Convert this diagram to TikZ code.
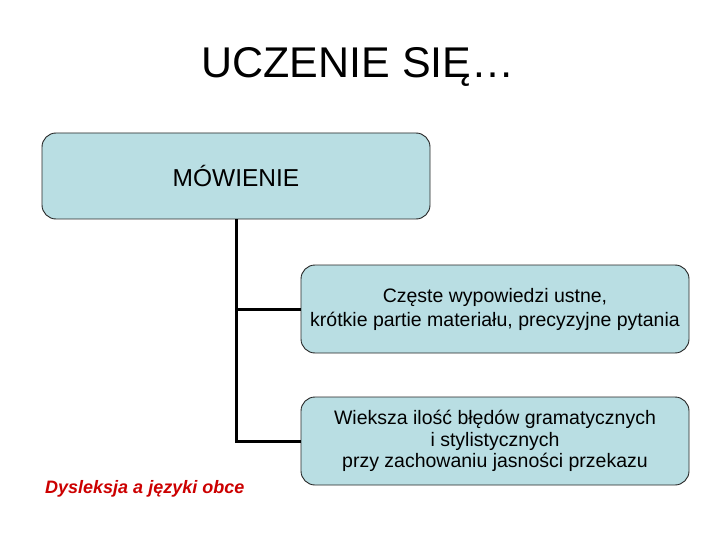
\documentclass[tikz,border=0pt]{standalone}
\usepackage{fontspec}
\setmainfont{Liberation Sans}
\definecolor{boxfill}{HTML}{B9DEE3}
\definecolor{footred}{HTML}{CC0000}
\begin{document}
\begin{tikzpicture}[x=1pt,y=-1pt,
  box/.style={draw=black!85,line width=0.9pt,fill=boxfill,rounded corners=14pt,
    minimum width=388pt,inner sep=0pt,align=center,text=black},
  conn/.style={line width=3pt}]
\useasboundingbox[fill=white] (0,0) rectangle (720,540);
\node[anchor=base,font=\fontsize{43}{50}\selectfont] (title) at (358,78) {UCZENIE SIĘ…};
\node[box,minimum height=86pt,font=\fontsize{24.5}{28}\selectfont] (b1) at (236,176) {MÓWIENIE};
\node[box,minimum height=88pt,font=\fontsize{19.5}{24}\selectfont] (b2) at (495,309) {Częste wypowiedzi ustne,\\ krótkie partie materiału, precyzyjne pytania};
\node[box,minimum height=88pt,font=\fontsize{19.5}{21.5}\selectfont] (b3) at (495,441) {Wieksza ilość błędów gramatycznych\\ i stylistycznych\\ przy zachowaniu jasności przekazu};
\draw[conn] (b1.south) |- (b3.west);
\draw[conn] (b1.south |- b2.west) -- (b2.west);
\node[anchor=base west,text=footred,inner sep=0pt,font=\fontsize{18}{21}\selectfont\bfseries\itshape] (foot) at (45,493) {Dysleksja a języki obce};
\end{tikzpicture}
\end{document}
